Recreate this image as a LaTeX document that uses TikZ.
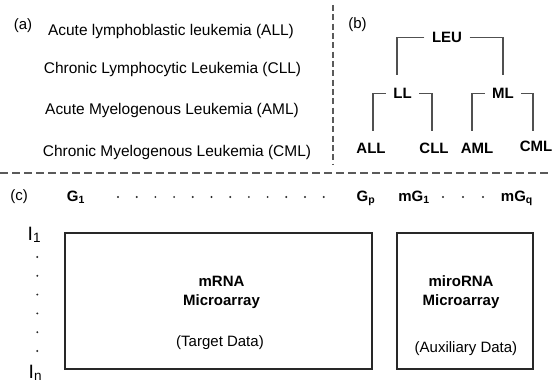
\documentclass[tikz,border=0pt]{standalone}
\usepackage{fontspec}
\setmainfont{Liberation Sans}

\tikzset{
  listtext/.style={font=\fontsize{11.6}{14}\selectfont},
  paneltag/.style={font=\fontsize{11.25}{13.5}\selectfont},
  treelabel/.style={font=\fontsize{11.25}{13.5}\selectfont\bfseries, inner xsep=5.5pt, inner ysep=1pt},
  genelabel/.style={font=\fontsize{11.25}{13.5}\selectfont\bfseries, anchor=base},
  samplelabel/.style={font=\fontsize{14.5}{17}\selectfont, anchor=base},
  boxtitle/.style={font=\fontsize{11.25}{14.25}\selectfont\bfseries, align=center},
  boxnote/.style={font=\fontsize{11.25}{13.5}\selectfont},
  databox/.style={draw={rgb, 255:red, 40; green, 40; blue, 40}, line width=1pt, inner sep=0pt, minimum height=102pt},
  treeline/.style={draw={rgb, 255:red, 80; green, 80; blue, 80}, line width=0.8pt},
  sepline/.style={draw={rgb, 255:red, 90; green, 90; blue, 90}, line width=0.8pt},
  gridpoint/.style={fill={rgb, 255:red, 40; green, 40; blue, 40}},
}

\begin{document}
\begin{tikzpicture}[x=0.75pt,y=0.75pt,yscale=-1,xscale=1]
\useasboundingbox (0,0) rectangle (552,385);

%Dashed separators
\coordinate (vtop) at (333,5);
\coordinate (vbot) at (333,164);
\coordinate (hleft) at (0,173);
\coordinate (hright) at (552,173);
\draw [sepline, dash pattern=on 4.5pt off 2.5pt] (vtop) -- (vbot) ;
\draw [sepline, dash pattern=on 6pt off 3pt] (hleft) -- (hright) ;

% Text Node (a)
\node [paneltag] (taga) at (23,26) {(a)};
\node [listtext] (descall) at (171,32) {Acute lymphoblastic leukemia (ALL)};
\node [listtext] (desccll) at (172.5,69.5) {Chronic Lymphocytic Leukemia (CLL)};
\node [listtext] (descaml) at (172,111) {Acute Myelogenous Leukemia (AML)};
\node [listtext] (desccml) at (177,152.5) {Chronic Myelogenous Leukemia (CML)};

% Text Node (b)
\node [paneltag] (tagb) at (357.5,25) {(b)};
\node [treelabel] (leu) at (447,37.5) {LEU};
\node [treelabel] (ll) at (402.5,93.5) {LL};
\node [treelabel] (ml) at (503,93.5) {ML};
\node [treelabel] (all) at (371,148) {ALL};
\node [treelabel] (cll) at (434,148) {CLL};
\node [treelabel] (aml) at (477,148) {AML};
\node [treelabel] (cml) at (536,146) {CML};

%Tree brackets
\coordinate (leuleft) at (397,75);
\coordinate (leuright) at (503,75);
\coordinate (llleft) at (373,131);
\coordinate (llright) at (432,131);
\coordinate (mlleft) at (472,131);
\coordinate (mlright) at (533,131);
\draw [treeline] (leu.west) -| (leuleft) ;
\draw [treeline] (leu.east) -| (leuright) ;
\draw [treeline] (ll.west) -| (llleft) ;
\draw [treeline] (ll.east) -| (llright) ;
\draw [treeline] (ml.west) -| (mlleft) ;
\draw [treeline] (ml.east) -| (mlright) ;

% Text Node (c)
\node [paneltag] (tagc) at (19,197) {(c)};
\node [genelabel] (g1) at (76,201) {G\textsubscript{1}};
\node [genelabel] (gp) at (366,201) {G\textsubscript{p}};
\node [genelabel] (mg1) at (414,201) {mG\textsubscript{1}};
\node [genelabel] (mgq) at (517,201) {mG\textsubscript{q}};
\foreach \k in {0,...,11}
  \fill [gridpoint] ({118+18.7*\k},197) circle (0.8pt);
\foreach \k in {0,...,2}
  \fill [gridpoint] ({443+20*\k},197) circle (0.8pt);

\node [samplelabel] (i1) at (34.5,240) {I\textsubscript{1}};
\node [samplelabel] (in) at (35.5,378) {I\textsubscript{n}};
\foreach \k in {0,...,5}
  \fill [gridpoint] (37.3,{257+18.8*\k}) circle (0.8pt);

%Shape: Rectangle
\node [databox, minimum width=230.25pt] (mrnabox) at (218.5,301) {};
\node [databox, minimum width=102pt] (mirnabox) at (465,301) {};

\node [boxtitle] (mrnatitle) at (221.5,292) {mRNA\\Microarray};
\node [boxnote] (mrnanote) at (220,343) {(Target Data)};
\node [boxtitle] (mirnatitle) at (461,292) {miroRNA\\Microarray};
\node [boxnote] (mirnanote) at (466,349) {(Auxiliary Data)};

\end{tikzpicture}
\end{document}
